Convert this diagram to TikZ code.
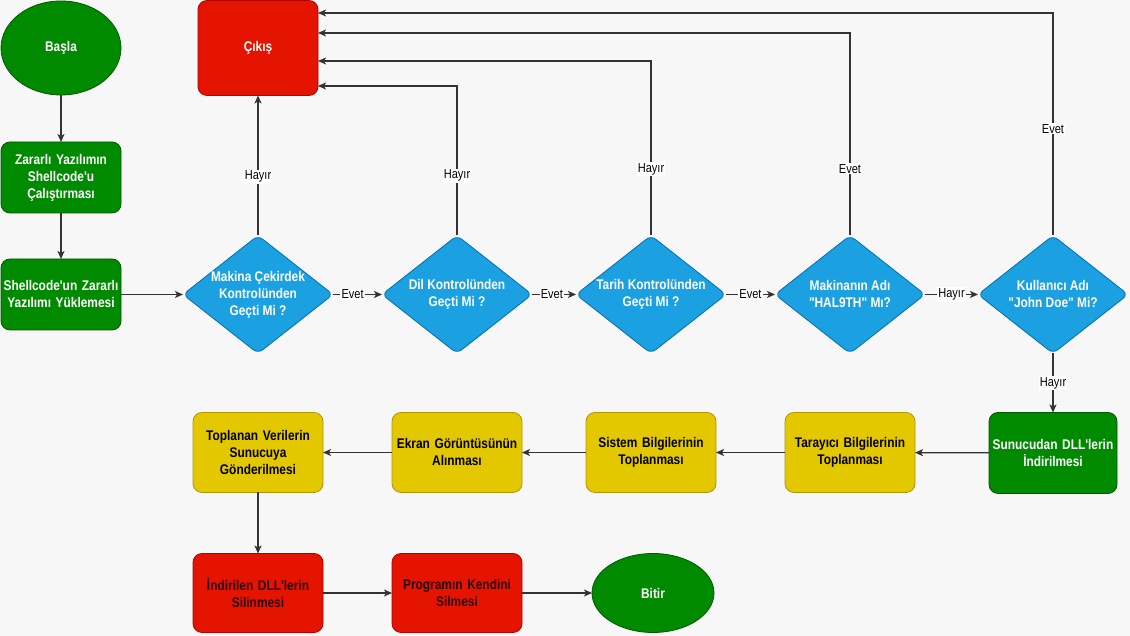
\documentclass[tikz,border=0pt]{standalone}
\usepackage{fontspec}
\setmainfont{Liberation Sans}[FakeStretch=0.85, Ligatures=TeXOff]
\usetikzlibrary{positioning}
\usetikzlibrary{shapes.geometric}
\usetikzlibrary{arrows.meta}

\definecolor{bgc}{HTML}{F7F7F7}
\definecolor{grfill}{HTML}{008A00}
\definecolor{grline}{HTML}{005700}
\definecolor{rdfill}{HTML}{E51400}
\definecolor{rdline}{HTML}{B20000}
\definecolor{blfill}{HTML}{1BA1E2}
\definecolor{blline}{HTML}{006EAF}
\definecolor{ylfill}{HTML}{E3C800}
\definecolor{ylline}{HTML}{B09500}
\definecolor{rdtext}{HTML}{2A0000}

\tikzset{
    boxfont/.style={font=\bfseries\fontsize{14}{17}\selectfont},
    terminal/.style={ellipse, draw=grline, fill=grfill, text=white, boxfont, line width=0.8pt, inner sep=0pt, outer sep=0pt},
    procbox/.style={rectangle, rounded corners=9pt, line width=0.8pt, boxfont, align=center, inner sep=0pt, outer sep=0pt},
    greenbox/.style={procbox, draw=grline, fill=grfill, text=white},
    redbox/.style={procbox, draw=rdline, fill=rdfill, text=rdtext},
    yellowbox/.style={procbox, draw=ylline, fill=ylfill, text=black},
    decision/.style={diamond, draw=blline, fill=blfill, line width=0.8pt, rounded corners=6pt, inner sep=0pt, outer sep=0pt, minimum width=150pt, minimum height=118pt},
    dtext/.style={boxfont, text=white, align=center},
    flow/.style={draw=black!80, line width=1.2pt, -{Stealth[length=8pt,width=7pt,inset=2pt]}},
    elabel/.style={fill=white, inner sep=1.2pt, text=black, font=\fontsize{13}{15}\selectfont}
}

\begin{document}
\begin{tikzpicture}[x=1pt, y=1pt]
    \useasboundingbox (0,0) rectangle (1130,636);
    \fill [bgc] (0,0) rectangle (1130,636);

    % left column
    \node [terminal, minimum width=120pt, minimum height=94pt] (basla) at (61,588) {Başla};
    \node [greenbox, below=47pt of basla, minimum width=120pt, minimum height=71pt, text width=116pt] (calistir) {Zararlı Yazılımın\\Shellcode'u\\Çalıştırması};
    \node [greenbox, below=46pt of calistir, minimum width=120pt, minimum height=71pt, text width=118pt] (yukle) {Shellcode'un Zararlı\\Yazılımı Yüklemesi};

    % checks
    \node [decision, right=62pt of yukle, label={[dtext]center:{Makina Çekirdek\\Kontrolünden\\Geçti Mi ?}}] (cekirdek) {};
    \node [decision, right=49pt of cekirdek, label={[dtext]center:{Dil Kontrolünden\\Geçti Mi ?}}] (dil) {};
    \node [decision, right=44pt of dil, label={[dtext]center:{Tarih Kontrolünden\\Geçti Mi ?}}] (tarih) {};
    \node [decision, right=49pt of tarih, label={[dtext]center:{Makinanın Adı\\"HAL9TH" Mı?}}] (makadi) {};
    \node [decision, right=53pt of makadi, label={[dtext]center:{Kullanıcı Adı\\"John Doe" Mi?}}] (kuladi) {};

    \node [redbox, above=140pt of cekirdek, minimum width=120pt, minimum height=95pt, text=white] (cikis) {Çıkış};

    % data collection
    \node [greenbox, below=59pt of kuladi, minimum width=128pt, minimum height=81pt, text width=124pt] (sunucu) {Sunucudan DLL'lerin\\İndirilmesi};
    \node [yellowbox, below=59pt of makadi, minimum width=130pt, minimum height=80pt, text width=126pt] (tarayici) {Tarayıcı Bilgilerinin\\Toplanması};
    \node [yellowbox, below=59pt of tarih, minimum width=130pt, minimum height=80pt, text width=126pt] (sistem) {Sistem Bilgilerinin\\Toplanması};
    \node [yellowbox, below=59pt of dil, minimum width=130pt, minimum height=80pt, text width=126pt] (ekran) {Ekran Görüntüsünün\\Alınması};
    \node [yellowbox, below=59pt of cekirdek, minimum width=130pt, minimum height=80pt, text width=126pt] (gonder) {Toplanan Verilerin\\Sunucuya\\Gönderilmesi};

    % cleanup
    \node [redbox, below=61pt of gonder, minimum width=130pt, minimum height=79pt, text width=126pt] (dllsil) {İndirilen DLL'lerin\\Silinmesi};
    \node [redbox, below=61pt of ekran, minimum width=130pt, minimum height=79pt, text width=126pt] (kendisil) {Programın Kendini\\Silmesi};
    \node [terminal, below=61pt of sistem, xshift=2pt, minimum width=122pt, minimum height=79pt] (bitir) {Bitir};

    \draw [flow] (basla) -- (calistir);
    \draw [flow] (calistir) -- (yukle);
    \draw [flow] (yukle) -- (cekirdek);

    \draw [flow] (cekirdek) -- node [elabel, pos=0.4] {Evet} (dil);
    \draw [flow] (dil) -- node [elabel, pos=0.45] {Evet} (tarih);
    \draw [flow] (tarih) -- node [elabel] {Evet} (makadi);
    \draw [flow] (makadi) -- node [elabel] {Hayır} (kuladi);

    % back to exit
    \draw [flow] (cekirdek.north) -- node [elabel, pos=0.42] {Hayır} (cikis.south);
    \draw [flow] (dil.north) |- node [elabel, pos=0.2] {Hayır} ([yshift=-38pt]cikis.east);
    \draw [flow] (tarih.north) |- node [elabel, pos=0.19] {Hayır} ([yshift=-13pt]cikis.east);
    \draw [flow] (makadi.north) |- node [elabel, pos=0.165] {Evet} ([yshift=15pt]cikis.east);
    \draw [flow] (kuladi.north) |- node [elabel, pos=0.24] {Evet} ([yshift=35pt]cikis.east);

    \draw [flow] (kuladi.south) -- node [elabel] {Hayır} (sunucu.north);
    \draw [flow] (sunucu) -- (tarayici);
    \draw [flow] (tarayici) -- (sistem);
    \draw [flow] (sistem) -- (ekran);
    \draw [flow] (ekran) -- (gonder);

    \draw [flow] (gonder) -- (dllsil);
    \draw [flow] (dllsil) -- (kendisil);
    \draw [flow] (kendisil) -- (bitir);
\end{tikzpicture}
\end{document}
